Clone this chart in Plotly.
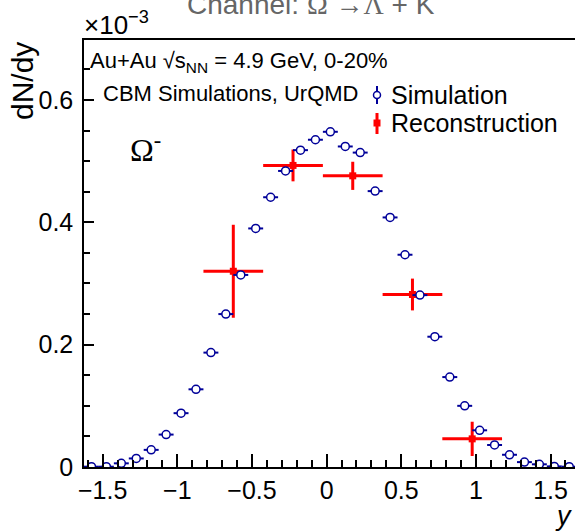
import plotly.graph_objects as go

# ---------------- data ----------------
sim_x = [-1.575, -1.475, -1.375, -1.275, -1.175, -1.075, -0.975, -0.875, -0.775, -0.675,
         -0.575, -0.475, -0.375, -0.275, -0.175, -0.075, 0.025, 0.125, 0.225, 0.325,
         0.425, 0.525, 0.625, 0.725, 0.825, 0.925, 1.025, 1.125, 1.225, 1.325,
         1.425, 1.525, 1.625]
sim_y = [0.0005, 0.0005, 0.006, 0.014, 0.028, 0.053, 0.088, 0.127, 0.187, 0.250,
         0.314, 0.390, 0.441, 0.484, 0.518, 0.535, 0.548, 0.524, 0.514, 0.451,
         0.408, 0.347, 0.281, 0.213, 0.147, 0.100, 0.060, 0.036, 0.020, 0.008,
         0.0044, 0.001, 0.0005]
sim_xerr = [0.05] * len(sim_x)
sim_yerr = [0.002] * len(sim_x)

rec_x = [-0.625, -0.225, 0.175, 0.575, 0.975]
rec_y = [0.320, 0.493, 0.476, 0.282, 0.046]
rec_xerr = [0.2, 0.2, 0.2, 0.2, 0.2]
rec_yerr = [0.076, 0.026, 0.023, 0.026, 0.028]

x_tickvals = [-1.5, -1, -0.5, 0, 0.5, 1, 1.5]
y_tickvals = [0, 0.2, 0.4, 0.6]
y_ticktext = ["0", "0.2", "0.4", "0.6"]

# ---------------- layout geometry ----------------
W, H = 575, 532
ML, MR, MT, MB = 84, 0, 40, 65
PW, PH = W - ML - MR, H - MT - MB

def px(xp):
    return (xp - ML) / PW

def py(yp):
    return (H - MB - yp) / PH

BLUE = "#000099"
RED = "#ff0000"
SANS = "Liberation Sans, Arial, sans-serif"
SERIF = "Liberation Serif, Times New Roman, serif"

fig = go.Figure()

fig.add_trace(go.Scatter(
    x=rec_x, y=rec_y, mode="markers",
    marker=dict(symbol="square", size=7, color=RED),
    error_x=dict(type="data", array=rec_xerr, color=RED, thickness=3, width=0),
    error_y=dict(type="data", array=rec_yerr, color=RED, thickness=3, width=0),
    showlegend=False, name="Reconstruction"))

fig.add_trace(go.Scatter(
    x=sim_x, y=sim_y, mode="markers",
    marker=dict(symbol="circle", size=8, color="white", line=dict(color=BLUE, width=1.5)),
    error_x=dict(type="data", array=sim_xerr, color=BLUE, thickness=2, width=0),
    error_y=dict(type="data", array=sim_yerr, color=BLUE, thickness=2, width=0),
    showlegend=False, name="Simulation"))

fig.update_layout(
    width=W, height=H,
    margin=dict(l=ML, r=MR, t=MT, b=MB),
    paper_bgcolor="white", plot_bgcolor="white",
    font=dict(family=SANS, color="black", size=25),
    xaxis=dict(range=[-1.625, -1.625 + PW / 149.3], showgrid=False, zeroline=False,
               showline=True, linecolor="black", linewidth=1.5, mirror=True,
               ticks="inside", ticklen=13, tickwidth=1.5, tickcolor="black",
               tickvals=x_tickvals, tickfont=dict(size=25, family=SANS),
               minor=dict(dtick=0.1, tick0=0, ticks="inside", ticklen=7, tickwidth=1.5, tickcolor="black")),
    yaxis=dict(range=[0, PH / 611.7], showgrid=False, zeroline=False,
               showline=True, linecolor="black", linewidth=1.5,
               ticks="inside", ticklen=10, tickwidth=1.5, tickcolor="black",
               tickvals=y_tickvals, ticktext=y_ticktext, tickfont=dict(size=25, family=SANS),
               ticklabelstandoff=4,
               minor=dict(dtick=0.05, tick0=0, ticks="inside", ticklen=6, tickwidth=1.5, tickcolor="black")),
)

ann = []
# title (partially cut at the top, as in the reference)
ann.append(dict(text="Channel: <span style='font-family:Liberation Serif'>Ω</span> →<span style='font-family:Liberation Serif'>Λ</span> + K",
                x=px(311), y=py(5), xref="paper", yref="paper", xanchor="center", yanchor="middle",
                showarrow=False, font=dict(size=28, color="#666666", family=SANS)))
# exponent
ann.append(dict(text="×10<sup>−3</sup>", x=px(82), y=py(24), xref="paper", yref="paper",
                xanchor="left", yanchor="middle", showarrow=False, font=dict(size=26, family=SANS)))
# y title
ann.append(dict(text="dN/dy", textangle=-90, x=px(22), y=py(40), xref="paper", yref="paper",
                xanchor="center", yanchor="top", showarrow=False, font=dict(size=30, family=SANS)))
# x title
ann.append(dict(text="<i>y</i>", x=px(574), y=py(533), xref="paper", yref="paper",
                xanchor="right", yanchor="bottom", showarrow=False, font=dict(size=27, family=SANS)))
# info texts
ann.append(dict(text="Au+Au √s<sub>NN</sub> = 4.9 GeV, 0-20%", x=px(88), y=py(62), xref="paper", yref="paper",
                xanchor="left", yanchor="middle", showarrow=False, font=dict(size=22, family=SANS)))
ann.append(dict(text="CBM Simulations, UrQMD", x=px(101), y=py(93), xref="paper", yref="paper",
                xanchor="left", yanchor="middle", showarrow=False, font=dict(size=22, family=SANS)))
ann.append(dict(text="Ω<sup>-</sup>", x=px(128), y=py(148), xref="paper", yref="paper",
                xanchor="left", yanchor="middle", showarrow=False, font=dict(size=32, family=SERIF)))
# legend texts
ann.append(dict(text="Simulation", x=px(389), y=py(95), xref="paper", yref="paper",
                xanchor="left", yanchor="middle", showarrow=False, font=dict(size=25, family=SANS)))
ann.append(dict(text="Reconstruction", x=px(389), y=py(123), xref="paper", yref="paper",
                xanchor="left", yanchor="middle", showarrow=False, font=dict(size=25, family=SANS)))
fig.update_layout(annotations=ann)

# legend symbols
shapes = []
shapes.append(dict(type="line", xref="paper", yref="paper", x0=px(377), x1=px(377), y0=py(86), y1=py(104),
                   line=dict(color=BLUE, width=2)))
shapes.append(dict(type="circle", xref="paper", yref="paper", xsizemode="pixel", ysizemode="pixel",
                   xanchor=px(377), yanchor=py(95), x0=-3.5, x1=3.5, y0=-3.5, y1=3.5,
                   line=dict(color=BLUE, width=1.5), fillcolor="white"))
shapes.append(dict(type="line", xref="paper", yref="paper", x0=px(377), x1=px(377), y0=py(113), y1=py(134),
                   line=dict(color=RED, width=3)))
shapes.append(dict(type="rect", xref="paper", yref="paper", xsizemode="pixel", ysizemode="pixel",
                   xanchor=px(377), yanchor=py(123), x0=-3.5, x1=3.5, y0=-3.5, y1=3.5,
                   line=dict(color=RED, width=0), fillcolor=RED))
fig.update_layout(shapes=shapes)

fig.write_html("out.html")
